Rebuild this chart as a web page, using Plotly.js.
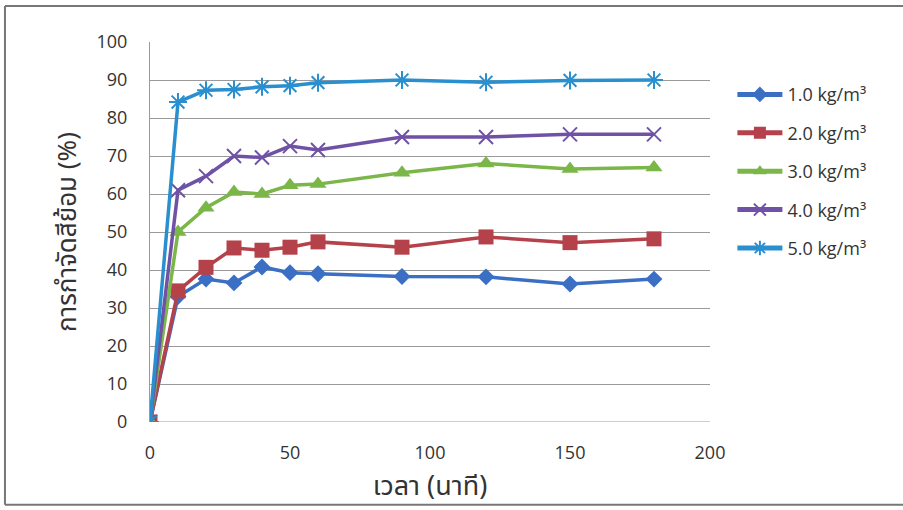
<!DOCTYPE html>
<html>
<head>
<meta charset="utf-8">
<script src="https://cdn.plot.ly/plotly-3.0.1.min.js"></script>
<style>html,body{margin:0;padding:0;background:#fff;}#chart{width:903px;height:510px;}</style>
</head>
<body>
<div id="chart"></div>
<script>
const time = [0, 10, 20, 30, 40, 50, 60, 90, 120, 150, 180];
const seriesNames = ["1.0 kg/m³", "2.0 kg/m³", "3.0 kg/m³", "4.0 kg/m³", "5.0 kg/m³"];
const dose1 = [0, 33, 37.6, 36.6, 40.8, 39.3, 39.0, 38.3, 38.2, 36.3, 37.6];
const dose2 = [0, 34.5, 40.7, 45.8, 45.2, 46.0, 47.4, 46.0, 48.7, 47.2, 48.2];
const dose3 = [0, 50.0, 56.4, 60.5, 60.0, 62.3, 62.6, 65.6, 68.0, 66.6, 67.0];
const dose4 = [0, 61.0, 64.7, 70.0, 69.6, 72.6, 71.6, 75.0, 75.0, 75.7, 75.7];
const dose5 = [0, 84.2, 87.3, 87.5, 88.2, 88.5, 89.3, 90.0, 89.4, 89.9, 90.0];
const yTicks = [0, 10, 20, 30, 40, 50, 60, 70, 80, 90, 100];
const xTicks = [0, 50, 100, 150, 200];

const colors = ["#3a6fc4", "#b5414a", "#7ab648", "#6f52a6", "#2a8fcf"];
const symbols = ["diamond", "square", "triangle-up", "x-thin-open", "asterisk-open"];
const sizes = [13, 15, 15, 14, 15];
const data = [dose1, dose2, dose3, dose4, dose5].map((y, i) => ({
  x: time, y: y, name: seriesNames[i], type: "scatter", mode: "lines+markers",
  legendgroup: "g" + i,
  line: {color: colors[i], width: 3.5},
  marker: {symbol: symbols[i], size: sizes[i], color: colors[i], line: {color: colors[i], width: (i >= 3 ? 2 : 0)}}
}));

const tickFont = {family: "Open Sans, Liberation Sans, sans-serif", size: 18, color: "#333"};
const layout = {
  width: 903, height: 510,
  margin: {l: 150, r: 193, t: 42, b: 88},
  paper_bgcolor: "#ffffff", plot_bgcolor: "#ffffff",
  showlegend: true,
  legend: {x: 1.04, y: 0.91, xanchor: "left", yanchor: "top", font: {family: "Open Sans, sans-serif", size: 18, color: "#333"},
           tracegroupgap: 12, itemwidth: 45, itemsizing: "constant"},
  xaxis: {
    range: [0, 200], tickvals: xTicks, ticktext: xTicks.map(String), showgrid: false, zeroline: false,
    showline: false, ticks: "", tickfont: tickFont, ticklabelstandoff: 18,
    title: {text: "เวลา (นาที)", font: {family: "Noto Sans Thai, Noto Sans, sans-serif", size: 27, color: "#333"}, standoff: 13}
  },
  yaxis: {
    range: [0, 100], tickvals: yTicks, ticktext: yTicks.map(String), showgrid: true, gridcolor: "#9a9a9a", gridwidth: 1,
    zeroline: false, showline: true, linecolor: "#9a9a9a", linewidth: 1, ticks: "", tickfont: tickFont,
    ticklabelstandoff: 18,
    title: {text: "การกำจัดสีย้อม (%)", font: {family: "Noto Sans Thai, Noto Sans, sans-serif", size: 26, color: "#333"}, standoff: 12}
  },
  shapes: [
    {type: "line", xref: "paper", yref: "paper", x0: -0.259, x1: 1.4, y0: 1.095, y1: 1.095, line: {color: "#777", width: 2}},
    {type: "line", xref: "paper", yref: "paper", x0: -0.259, x1: -0.259, y0: 1.095, y1: -0.218, line: {color: "#777", width: 2}},
    {type: "line", xref: "paper", yref: "paper", x0: -0.259, x1: 1.4, y0: -0.218, y1: -0.218, line: {color: "#777", width: 2}},
    {type: "line", xref: "x", yref: "y", x0: 0, x1: 200, y0: 0, y1: 0, line: {color: "#9a9a9a", width: 1}, layer: "below"}
  ]
};
Plotly.newPlot("chart", data, layout, {displayModeBar: false, staticPlot: true});
</script>
</body>
</html>
